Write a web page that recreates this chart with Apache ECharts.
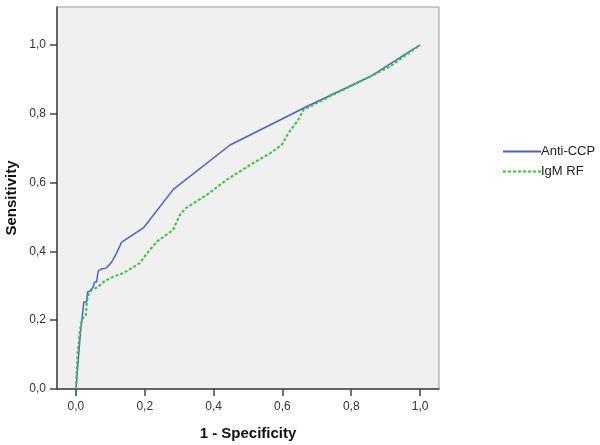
<!DOCTYPE html>
<html>
<head>
<meta charset="utf-8">
<script src="https://cdn.jsdelivr.net/npm/echarts@6/dist/echarts.min.js"></script>
<style>
  html, body { margin: 0; padding: 0; background: #fff; }
  #main { width: 600px; height: 445px; }
</style>
</head>
<body>
<div id="main"></div>
<script>
// ROC curve points (1 - specificity, sensitivity)
var antiCcpX = [0, 0.0137, 0.0174, 0.0174, 0.023, 0.023, 0.031, 0.034, 0.041, 0.046, 0.051, 0.054, 0.06, 0.062, 0.065, 0.075, 0.089, 0.104, 0.118, 0.133, 0.196, 0.283, 0.448, 0.671, 0.855, 1];
var antiCcpY = [0, 0.1715, 0.1715, 0.2006, 0.2006, 0.253, 0.253, 0.282, 0.285, 0.291, 0.299, 0.311, 0.311, 0.326, 0.343, 0.349, 0.352, 0.369, 0.395, 0.427, 0.468, 0.580, 0.709, 0.821, 0.908, 1];

var igmRfX = [0, 0.005, 0.009, 0.012, 0.017, 0.024, 0.029, 0.032, 0.038, 0.047, 0.064, 0.084, 0.108, 0.138, 0.186, 0.206, 0.235, 0.271, 0.282, 0.302, 0.32, 0.38, 0.438, 0.506, 0.564, 0.598, 0.617, 0.646, 0.661, 0.738, 0.835, 0.913, 1];
var igmRfY = [0, 0.105, 0.142, 0.172, 0.201, 0.209, 0.215, 0.256, 0.279, 0.288, 0.297, 0.314, 0.326, 0.337, 0.366, 0.394, 0.428, 0.454, 0.462, 0.506, 0.526, 0.564, 0.608, 0.651, 0.685, 0.709, 0.743, 0.782, 0.811, 0.850, 0.898, 0.937, 1];

var tickValues = [0, 0.2, 0.4, 0.6, 0.8, 1.0];
var seriesNames = ['Anti-CCP', 'IgM RF'];

function zip(xs, ys) {
    return xs.map(function (x, i) { return [x, ys[i]]; });
}
function fmt(v) {
    return v.toFixed(1).replace('.', ',');
}

var chart = echarts.init(document.getElementById('main'));
var axisColor = '#444';
var option = {
    animation: false,
    textStyle: { fontFamily: 'Liberation Sans, Arial, sans-serif' },
    grid: {
        left: 57, right: 161, top: 7, bottom: 56,
        outerBoundsMode: 'none',
        containLabel: false,
        show: true,
        backgroundColor: '#f0f0f0',
        borderColor: '#999',
        borderWidth: 1
    },
    legend: {
        orient: 'vertical',
        left: 497,
        top: 140,
        itemWidth: 38,
        itemHeight: 14,
        itemGap: 7,
        itemStyle: { opacity: 0 },
        textStyle: { fontSize: 13, color: '#222', padding: [0, 0, 0, -5] },
        data: seriesNames
    },
    xAxis: {
        type: 'value',
        min: -0.055,
        max: 1.055,
        name: '1 - Specificity',
        nameLocation: 'middle',
        nameGap: 37,
        nameMoveOverlap: false,
        nameTextStyle: { fontSize: 15, fontWeight: 'bold', color: '#111' },
        splitLine: { show: false },
        axisLine: { show: true, onZero: false, lineStyle: { color: axisColor, width: 1.5 } },
        axisTick: { show: true, length: 7, lineStyle: { color: axisColor, width: 1.5 }, customValues: tickValues },
        axisLabel: { color: '#333', fontSize: 12, margin: 12, customValues: tickValues, formatter: fmt }
    },
    yAxis: {
        type: 'value',
        min: 0,
        max: 1.11,
        name: 'Sensitivity',
        nameLocation: 'middle',
        nameGap: 38,
        nameMoveOverlap: false,
        nameTextStyle: { fontSize: 15, fontWeight: 'bold', color: '#111' },
        splitLine: { show: false },
        axisLine: { show: true, onZero: false, lineStyle: { color: axisColor, width: 1.5 } },
        axisTick: { show: true, length: 7, lineStyle: { color: axisColor, width: 1.5 }, customValues: tickValues },
        axisLabel: { color: '#333', fontSize: 12, margin: 11, customValues: tickValues, formatter: fmt }
    },
    series: [
        {
            name: seriesNames[0],
            type: 'line',
            data: zip(antiCcpX, antiCcpY),
            showSymbol: false,
            symbol: 'none',
            color: '#4a62c0',
            lineStyle: { width: 1.5, color: '#4a62c0' }
        },
        {
            name: seriesNames[1],
            type: 'line',
            data: zip(igmRfX, igmRfY),
            showSymbol: false,
            symbol: 'none',
            color: '#36c43a',
            lineStyle: { width: 2, type: [3, 2], color: '#36c43a' }
        }
    ]
};
chart.setOption(option);
</script>
</body>
</html>
